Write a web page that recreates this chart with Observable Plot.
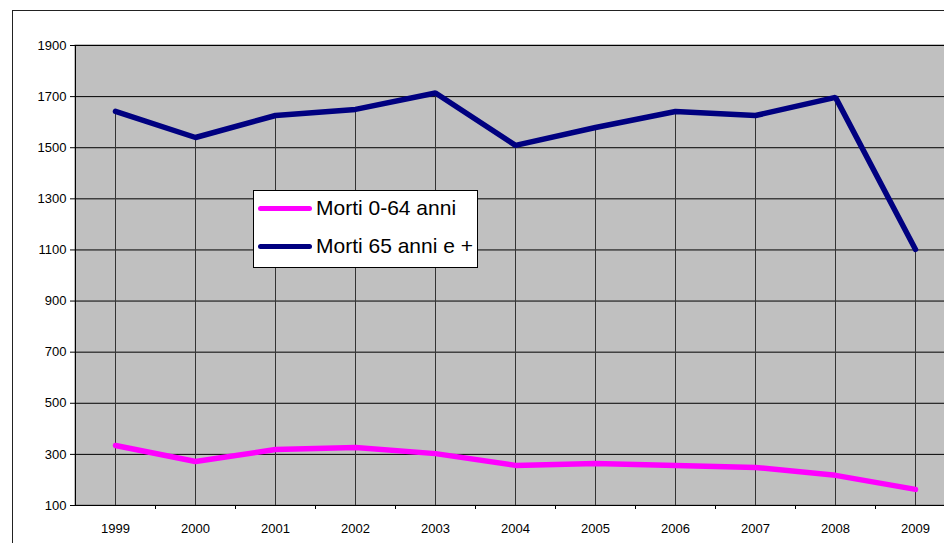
<!DOCTYPE html>
<html><head><meta charset="utf-8">
<script src="https://cdn.jsdelivr.net/npm/d3@7"></script>
<script src="https://cdn.jsdelivr.net/npm/@observablehq/plot@0.6"></script>
<style>
body{margin:0;background:#fff;font-family:"Liberation Sans",Arial,sans-serif;}
#wrap{position:relative;width:944px;height:543px;overflow:hidden;}
#border{position:absolute;left:12px;top:10px;width:1000px;height:600px;border:1.5px solid #222;box-sizing:border-box;}
#chart{position:absolute;left:0;top:0;}
#legend{position:absolute;left:253px;top:190px;width:225px;height:78px;background:#fff;border:1px solid #000;box-sizing:border-box;font-size:21px;color:#000;}
.row{position:absolute;left:4px;display:flex;align-items:center;line-height:24px;}
.sw{width:54px;height:5px;border-radius:3px;margin-right:4px;}
</style></head>
<body><div id="wrap"><div id="border"></div><div id="chart"></div>
<div id="legend"></div></div>
<script>
const years = [1999,2000,2001,2002,2003,2004,2005,2006,2007,2008,2009];
const morti0_64 = [335,272,319,327,303,257,264,257,249,218,163];
const morti65 = [1642,1540,1626,1650,1714,1509,1579,1642,1626,1697,1102];
const seriesNames = ["Morti 0-64 anni","Morti 65 anni e +"];
const colors = ["#ff00ff","#000080"];
const yTicks = [100,300,500,700,900,1100,1300,1500,1700,1900];

const d0 = years.map((y,i)=>({year:y,value:morti0_64[i]}));
const d1 = years.map((y,i)=>({year:y,value:morti65[i]}));
const between = years.slice(0,-1).map(y=>y+0.5);

const plot = Plot.plot({
  width:944, height:543,
  marginTop:45, marginBottom:38, marginLeft:75, marginRight:0,
  style:{fontFamily:"'Liberation Sans', Arial, sans-serif", fontSize:"13px", color:"#000", background:"transparent"},
  x:{domain:[1998.5,2009.5], range:[75,955]},
  y:{domain:[100,1900]},
  marks:[
    Plot.rect([0],{x1:1998.5,x2:2009.5,y1:100,y2:1900,fill:"#c0c0c0",stroke:"#808080"}),
    Plot.ruleY(yTicks,{stroke:"#000",strokeWidth:1}),
    Plot.ruleX(d1,{x:"year",y1:100,y2:"value",stroke:"#333",strokeWidth:1}),
    Plot.ruleX([1998.5],{stroke:"#000"}),
    Plot.ruleY([100],{stroke:"#000",strokeWidth:1.2}),
    Plot.line(d0,{x:"year",y:"value",stroke:colors[0],strokeWidth:5.5,strokeLinejoin:"miter"}),
    Plot.line(d1,{x:"year",y:"value",stroke:colors[1],strokeWidth:5.5,strokeLinejoin:"miter"}),
    Plot.axisY({ticks:yTicks,tickSize:5,tickPadding:4,label:null,tickFormat:d=>String(d),stroke:"#000"}),
    Plot.axisX({ticks:between,tickSize:4,tickFormat:()=>"",label:null}),
    Plot.axisX({ticks:years,tickSize:0,tickPadding:18,tickFormat:d=>String(d),label:null})
  ]
});
document.getElementById("chart").appendChild(plot);

const lg = document.getElementById("legend");
seriesNames.forEach((n,i)=>{
  const r=document.createElement("div");r.className="row";r.style.top=(i===0?5:43)+"px";
  r.innerHTML=`<div class="sw" style="background:${colors[i]}"></div><span>${n}</span>`;
  lg.appendChild(r);
});
</script></body></html>
